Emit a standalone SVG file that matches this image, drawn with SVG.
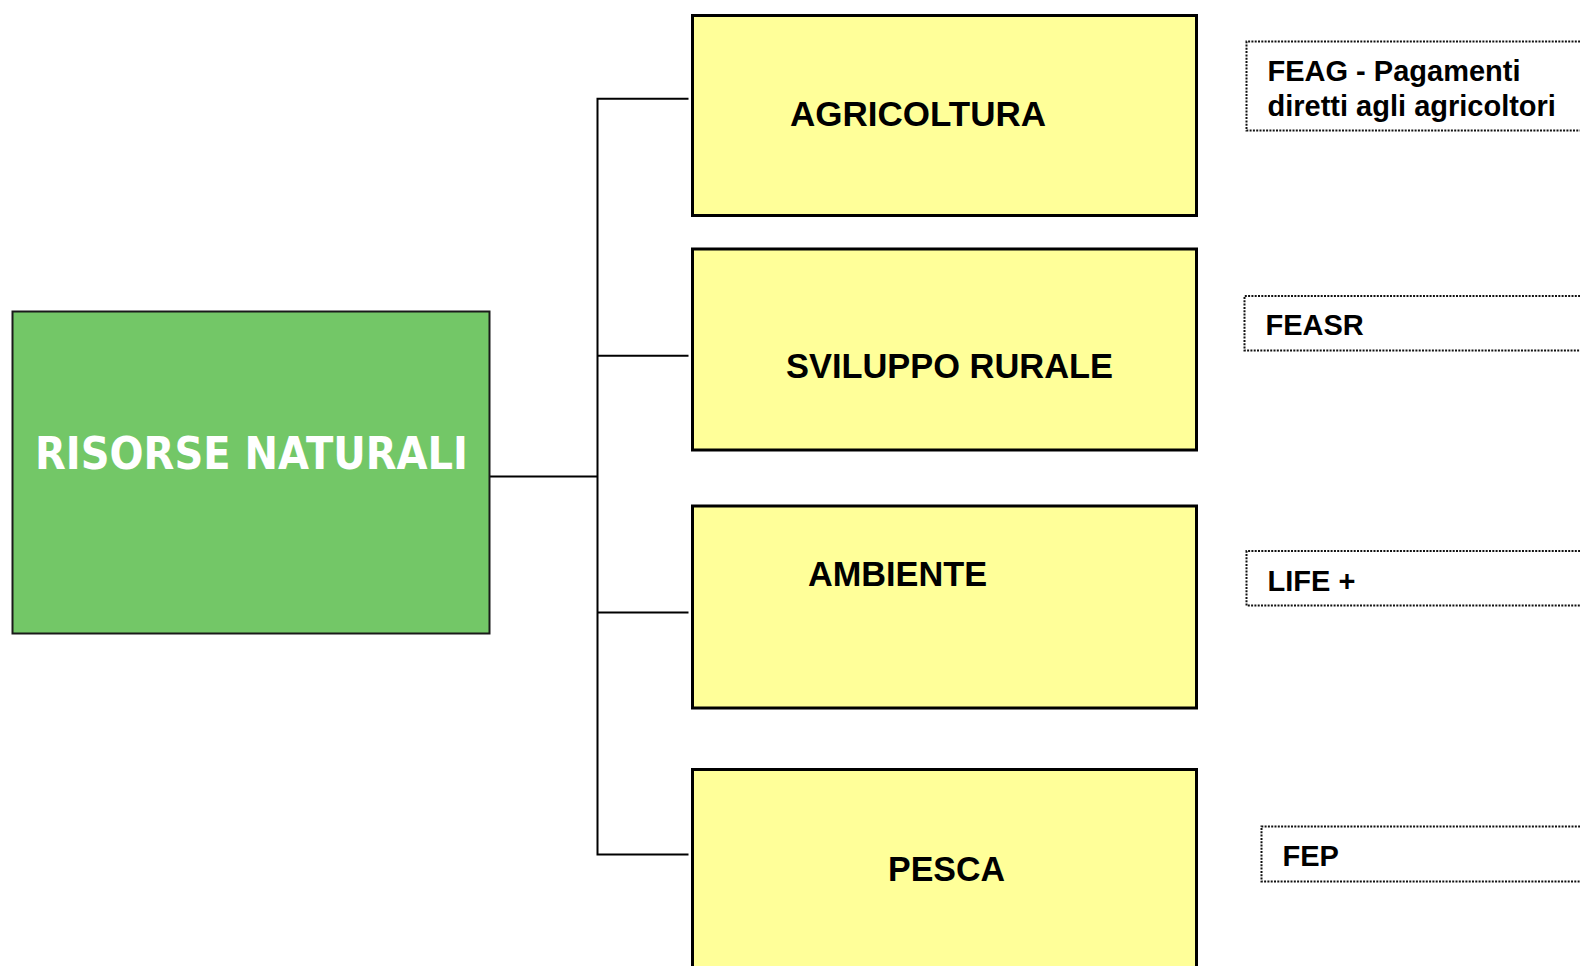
<svg xmlns="http://www.w3.org/2000/svg" width="1580" height="966" viewBox="0 0 1580 966">
<style>
.yb{fill:#FFFF99;stroke:#000;stroke-width:3}
.yt{font-family:"Liberation Sans",Arial,sans-serif;font-weight:bold;font-size:35px;fill:#000}
.db{fill:none;stroke:#111;stroke-width:2;stroke-dasharray:2 1.3}
.dt{font-family:"Liberation Sans",Arial,sans-serif;font-weight:bold;font-size:29px;fill:#000}
.cn{fill:none;stroke:#000;stroke-width:2}
</style>
<rect width="1580" height="966" fill="#fff"/>
<g id="connectors">
<path class="cn" d="M490 476.6 H597.5"/>
<path class="cn" d="M688.5 98.7 H597.5 V854.5 H688.5"/>
<path class="cn" d="M597.5 355.7 H688.5"/>
<path class="cn" d="M597.5 612.6 H688.5"/>
</g>
<g id="risorse">
<rect x="12.5" y="311.5" width="477" height="322" fill="#73C767" stroke="#1a1a1a" stroke-width="2"/>
<text x="35" y="468.5" font-family="'DejaVu Sans',Verdana,sans-serif" font-weight="bold" font-size="45" fill="#fff" textLength="433" lengthAdjust="spacingAndGlyphs">RISORSE NATURALI</text>
</g>
<g id="agricoltura">
<rect class="yb" x="692.5" y="15.5" width="504" height="200"/>
<text class="yt" x="790" y="126" textLength="256" lengthAdjust="spacingAndGlyphs">AGRICOLTURA</text>
</g>
<g id="sviluppo">
<rect class="yb" x="692.5" y="249" width="504" height="201"/>
<text class="yt" x="786" y="378" textLength="327" lengthAdjust="spacingAndGlyphs">SVILUPPO RURALE</text>
</g>
<g id="ambiente">
<rect class="yb" x="692.5" y="506" width="504" height="202"/>
<text class="yt" x="808" y="586" textLength="179" lengthAdjust="spacingAndGlyphs">AMBIENTE</text>
</g>
<g id="pesca">
<rect class="yb" x="692.5" y="769.5" width="504" height="210"/>
<text class="yt" x="888" y="880.7" textLength="117" lengthAdjust="spacingAndGlyphs">PESCA</text>
</g>
<g id="feag">
<path class="db" d="M1590 41.5 H1246.5 V130.5 H1590"/>
<text class="dt" x="1267.5" y="81">FEAG - Pagamenti</text>
<text class="dt" x="1267.5" y="116">diretti agli agricoltori</text>
</g>
<g id="feasr">
<path class="db" d="M1590 296 H1244.5 V350.5 H1590"/>
<text class="dt" x="1265.5" y="334.5">FEASR</text>
</g>
<g id="life">
<path class="db" d="M1590 551 H1246.5 V605.5 H1590"/>
<text class="dt" x="1267.5" y="590.5">LIFE +</text>
</g>
<g id="fep">
<path class="db" d="M1590 826.5 H1261.5 V881.5 H1590"/>
<text class="dt" x="1282.5" y="865.5">FEP</text>
</g>
</svg>
